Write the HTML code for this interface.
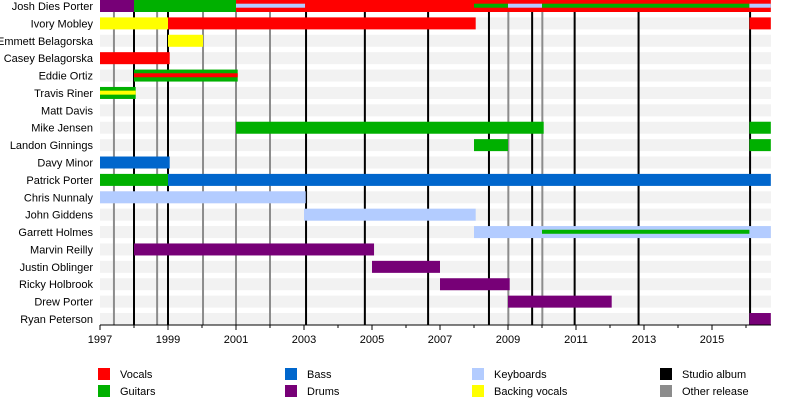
<!DOCTYPE html>
<html><head><meta charset="utf-8"><style>
body{margin:0;background:#fff;width:800px;height:404px;overflow:hidden;font-family:"Liberation Sans",sans-serif}
</style></head><body>
<svg id="chart" width="800" height="404" xmlns="http://www.w3.org/2000/svg" font-family="Liberation Sans, sans-serif"></svg>
<script>
const members=["Josh Dies Porter","Ivory Mobley","Emmett Belagorska","Casey Belagorska","Eddie Ortiz","Travis Riner","Matt Davis","Mike Jensen","Landon Ginnings","Davy Minor","Patrick Porter","Chris Nunnaly","John Giddens","Garrett Holmes","Marvin Reilly","Justin Oblinger","Ricky Holbrook","Drew Porter","Ryan Peterson"];
// [memberIndex, start, end, role, thin]
const bars=[
[0,1997,1998,"drums",0],[0,1998,2001,"guitars",0],[0,2001,2016.73,"vocals",0],
[0,2001,2003.03,"keyboards",1],[0,2008,2009,"guitars",1],[0,2009,2010,"keyboards",1],[0,2010,2016.1,"guitars",1],[0,2016.1,2016.73,"keyboards",1],
[1,1997,1999,"backing",0],[1,1999,2008.05,"vocals",0],[1,2016.1,2016.73,"vocals",0],
[2,1999,2000.03,"backing",0],
[3,1997,1999.05,"vocals",0],
[4,1998,2001.05,"guitars",0],[4,1998,2001.05,"vocals",1],
[5,1997,1998.05,"guitars",0],[5,1997,1998.05,"backing",1],
[7,2001,2010.05,"guitars",0],[7,2016.1,2016.73,"guitars",0],
[8,2008,2009,"guitars",0],[8,2016.1,2016.73,"guitars",0],
[9,1997,1999.05,"bass",0],
[10,1997,1999,"guitars",0],[10,1999,2016.73,"bass",0],
[11,1997,2003.05,"keyboards",0],
[12,2003,2008.05,"keyboards",0],
[13,2008,2016.73,"keyboards",0],[13,2010,2016.1,"guitars",1],
[14,1998,2005.06,"drums",0],
[15,2005,2007,"drums",0],
[16,2007,2009.05,"drums",0],
[17,2009,2012.05,"drums",0],
[18,2016.1,2016.73,"drums",0]
];
const studioAlbums=[1998.0,1999.0,2003.06,2004.79,2006.65,2008.44,2009.71,2010.96,2012.84,2016.12];
const otherReleases=[1997.41,1998.68,2000.03,2001.0,2002.0,2009.01,2010.01];
const tickYears=[1997,1999,2001,2003,2005,2007,2009,2011,2013,2015];
const roles=["vocals","guitars","bass","drums","keyboards","backing","studio","other"];
const roleLabels=["Vocals","Guitars","Bass","Drums","Keyboards","Backing vocals","Studio album","Other release"];
const colors={vocals:"#ff0000",guitars:"#00b000",bass:"#0066cc",drums:"#770077",keyboards:"#b3ccff",backing:"#ffff00",studio:"#000000",other:"#8c8c8c"};

const svg=document.getElementById('chart');
const NS="http://www.w3.org/2000/svg";
const x0=100,x1=771,y0=0,yEnd=325,rowH=17.39,barH=12;
const X=y=>x0+(y-1997)*34;
const Y=i=>y0+i*rowH;
function mk(t,a){const e=document.createElementNS(NS,t);for(const k in a)e.setAttribute(k,a[k]);svg.appendChild(e);return e;}
// stripes + labels
members.forEach((m,i)=>{
  const s=mk('rect',{x:x0,y:Y(i),width:x1-x0,height:barH,fill:i%1===0?'#f2f2f2':'#fff'});
  
  
  const t=mk('text',{x:93,y:Y(i)+10,'text-anchor':'end','font-size':'11',fill:'#000'});
  t.textContent=m;
  
  
});
// release lines
otherReleases.forEach(v=>{
  const l=mk('line',{x1:X(v),x2:X(v),y1:y0,y2:yEnd,stroke:colors.other,'stroke-width':2});
  
  
});
studioAlbums.forEach(v=>{
  const l=mk('line',{x1:X(v),x2:X(v),y1:y0,y2:yEnd,stroke:'#000','stroke-width':2});
  
  
});
// bars
bars.forEach(b=>{
  const thin=b[4];
  const r=mk('rect',{x:X(b[1]),y:Y(b[0])+(thin?3.7:0),width:X(b[2])-X(b[1]),height:thin?4:barH,fill:colors[b[3]]});
  
  
});
// axis
const ax=mk('line',{x1:x0,x2:x1,y1:yEnd,y2:yEnd,stroke:'#000','stroke-width':1});


for(let yr=1997;yr<=2016;yr++){
  const major=(yr-1997)%2===0;
  const t=mk('line',{x1:X(yr),x2:X(yr),y1:yEnd,y2:yEnd+(major?5:3),stroke:'#000','stroke-width':1});
  
  
}
tickYears.forEach(yr=>{
  const t=mk('text',{x:X(yr),y:343,'text-anchor':'middle','font-size':'11',fill:'#000'});
  t.textContent=yr;
  
  
});
// legend
const colX=[98,285,472,660];
roles.forEach((r,i)=>{
  const cx=colX[Math.floor(i/2)],cy=368+(i%2)*17;
  const s=mk('rect',{x:cx,y:cy,width:12,height:12,fill:colors[r]});
  
  
  const t=mk('text',{x:cx+22,y:cy+10,'font-size':'11',fill:'#000'});
  t.textContent=roleLabels[i];
  
  
});
</script>
</body></html>
